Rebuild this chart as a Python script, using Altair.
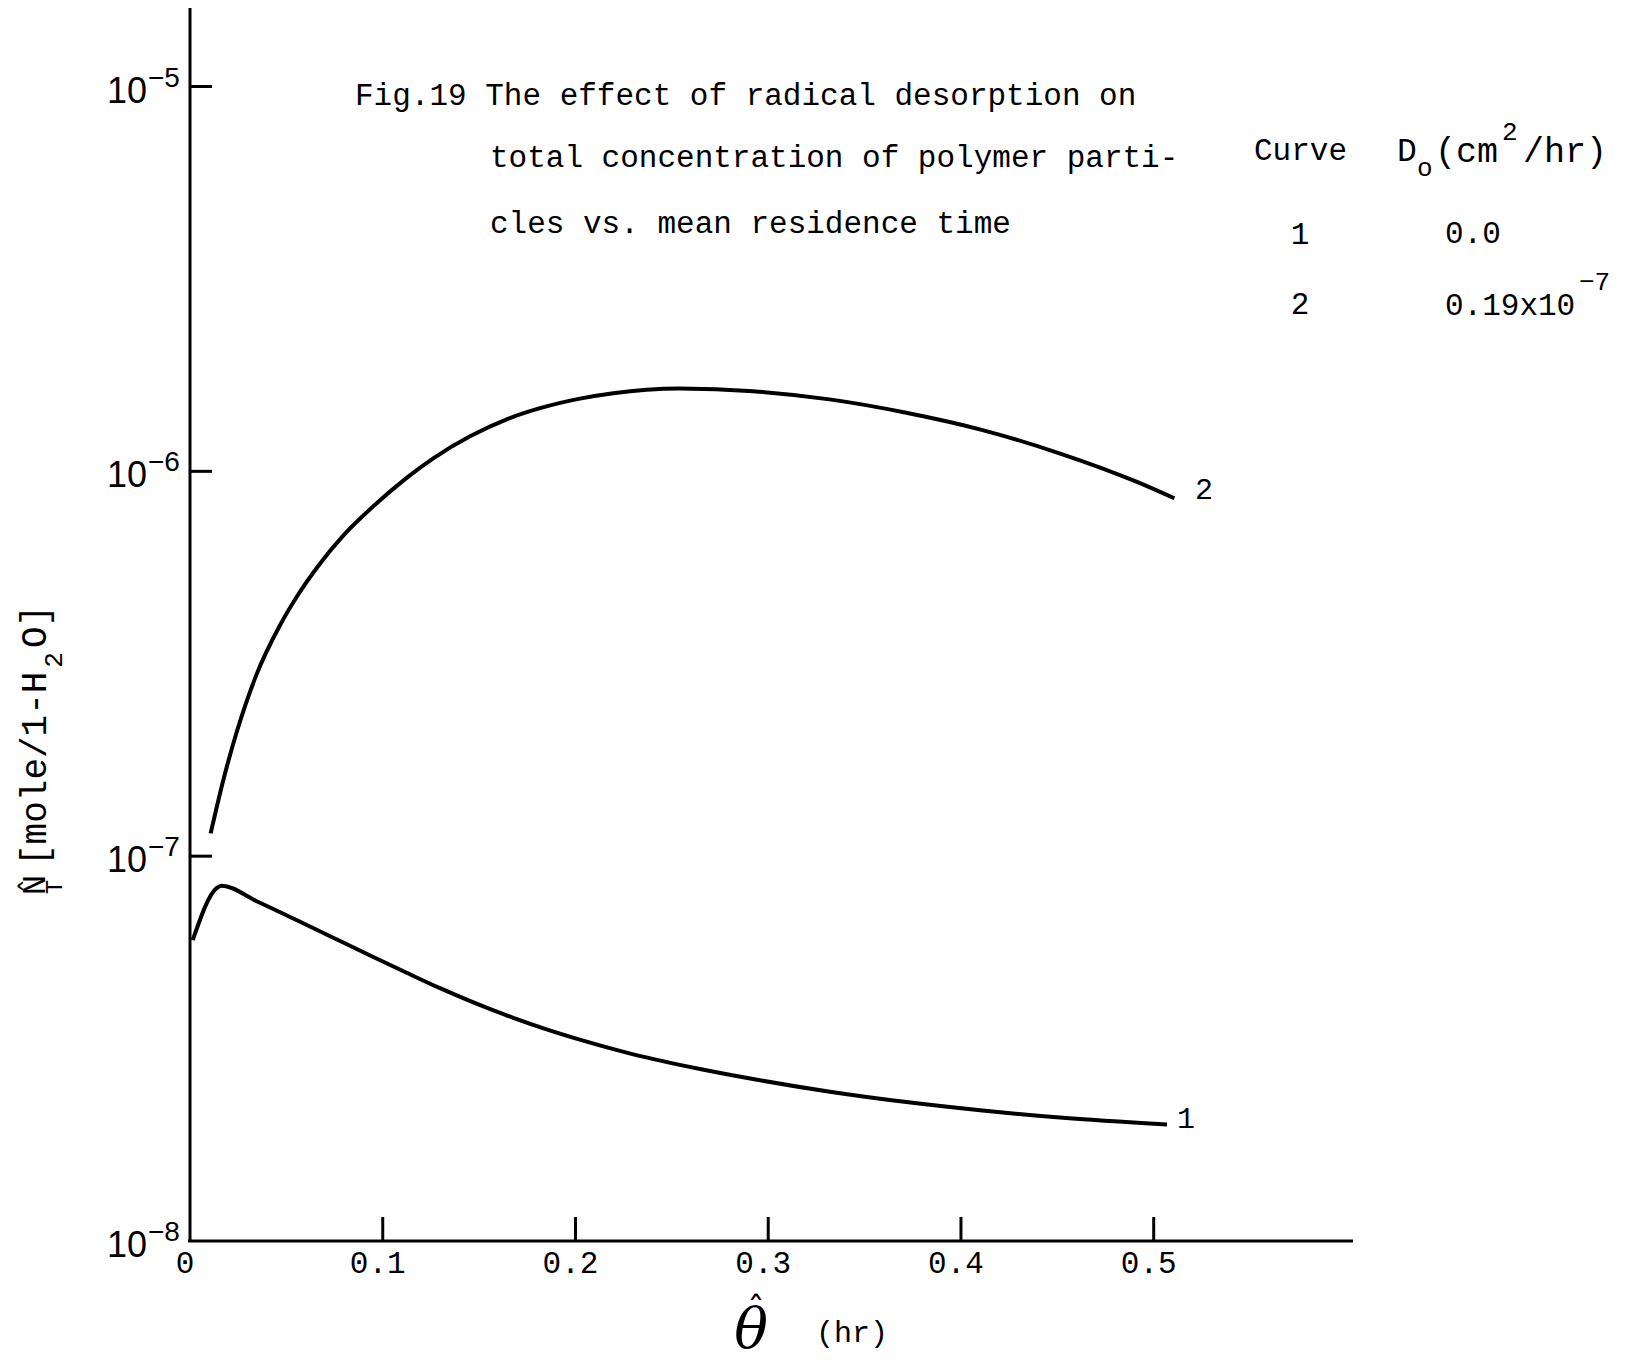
import altair as alt
import pandas as pd

# ---------------- data ----------------
# Curve 1 : D_o = 0.0
c1_theta = [0.0014, 0.0138, 0.0164, 0.0346, 0.0536, 0.0743, 0.0951, 0.1124, 0.1297,
            0.147, 0.1677, 0.185, 0.2058, 0.23, 0.2646, 0.2921, 0.332, 0.3717,
            0.4112, 0.4513, 0.5069]
c1_nt = [6.05e-8, 8.26e-8, 8.38e-8, 7.638e-8, 6.887e-8, 6.138e-8, 5.470e-8, 4.977e-8, 4.539e-8,
         4.169e-8, 3.802e-8, 3.548e-8, 3.296e-8, 3.055e-8, 2.799e-8, 2.636e-8, 2.443e-8, 2.296e-8,
         2.183e-8, 2.094e-8, 2.009e-8]

# Curve 2 : D_o = 0.19x10^-7
c2_theta = [0.0107, 0.0173, 0.0242, 0.0346, 0.0467, 0.0554, 0.0674, 0.0795, 0.0951,
            0.1124, 0.1262, 0.1453, 0.1643, 0.1816, 0.2023, 0.2196, 0.2369, 0.254,
            0.2921, 0.3318, 0.3716, 0.4112, 0.4511, 0.491, 0.5107]
c2_nt = [1.146e-7, 1.578e-7, 2.099e-7, 2.972e-7, 3.981e-7, 4.721e-7, 5.754e-7, 6.808e-7, 8.110e-7,
         9.616e-7, 1.081e-6, 1.233e-6, 1.365e-6, 1.459e-6, 1.545e-6, 1.596e-6, 1.629e-6, 1.641e-6,
         1.615e-6, 1.538e-6, 1.42e-6, 1.28e-6, 1.114e-6, 9.4e-7, 8.51e-7]

x_tick_values = [0.1, 0.2, 0.3, 0.4, 0.5]
x_label_values = [0.0, 0.1, 0.2, 0.3, 0.4, 0.5]
x_label_texts = ["0", "0.1", "0.2", "0.3", "0.4", "0.5"]
y_tick_values = [1e-5, 1e-6, 1e-7]
y_label_values = [1e-5, 1e-6, 1e-7, 1e-8]
y_label_exps = ["\u22125", "\u22126", "\u22127", "\u22128"]

title_lines = ["Fig.19 The effect of radical desorption on",
               "total concentration of polymer parti-",
               "cles vs. mean residence time"]

# ---------------- layout ----------------
W, H = 1163, 1233
MONO = "Liberation Mono"
SANS = "Liberation Sans"

xscale = alt.Scale(domain=[0, 0.6034], nice=False, zero=False)
yscale = alt.Scale(type="log", domain=[1e-8, 10 ** -4.796], nice=False)

curves = pd.DataFrame({
    "theta": c1_theta + c2_theta,
    "nt": c1_nt + c2_nt,
    "curve": ["1"] * len(c1_theta) + ["2"] * len(c2_theta),
})

lines = alt.Chart(curves).mark_line(color="black", strokeWidth=4, interpolate="monotone").encode(
    x=alt.X("theta:Q", scale=xscale, axis=None),
    y=alt.Y("nt:Q", scale=yscale, axis=None),
    detail="curve:N",
)

# axis lines
yaxis_line = alt.Chart(pd.DataFrame({"a": [0]})).mark_rule(color="black", strokeWidth=3).encode(
    x=alt.value(0), y=alt.value(0), y2=alt.value(H + 1))
xaxis_line = alt.Chart(pd.DataFrame({"a": [0]})).mark_rule(color="black", strokeWidth=3).encode(
    y=alt.value(H), x=alt.value(-2), x2=alt.value(W))

xticks = alt.Chart(pd.DataFrame({"v": x_tick_values})).mark_rule(color="black", strokeWidth=3).encode(
    x=alt.X("v:Q", scale=xscale, axis=None),
    y=alt.value(H), y2=alt.value(H - 24),
)
yticks = alt.Chart(pd.DataFrame({"v": y_tick_values})).mark_rule(color="black", strokeWidth=3).encode(
    y=alt.Y("v:Q", scale=yscale, axis=None),
    x=alt.value(0), x2=alt.value(22),
)

xlabels = alt.Chart(pd.DataFrame({"v": x_label_values, "t": x_label_texts})).mark_text(
    font=MONO, fontSize=31, align="center", baseline="middle", dx=-5, color="black"
).encode(x=alt.X("v:Q", scale=xscale, axis=None), y=alt.value(1256), text="t:N")

ylab_df = pd.DataFrame({"v": y_label_values, "e": y_label_exps, "b": ["10"] * 4})
ylabels10 = alt.Chart(ylab_df).mark_text(
    font=SANS, fontSize=36, align="right", baseline="middle", dy=5, color="black"
).encode(y=alt.Y("v:Q", scale=yscale, axis=None), x=alt.value(-43), text="b:N")
ylabelsExp = alt.Chart(ylab_df).mark_text(
    font=SANS, fontSize=28, align="left", baseline="middle", dy=-8, color="black"
).encode(y=alt.Y("v:Q", scale=yscale, axis=None), x=alt.value(-42), text="e:N")


def label(text, x, y, size=31, font=MONO, align="left", angle=0, style="normal", baseline="middle"):
    return alt.Chart(pd.DataFrame({"t": [text]})).mark_text(
        font=font, fontSize=size, align=align, baseline=baseline, angle=angle,
        fontStyle=style, color="black"
    ).encode(x=alt.value(x), y=alt.value(y), text="t:N")


texts = [
    label(title_lines[0], 165, 88),
    label(title_lines[1], 300, 150),
    label(title_lines[2], 300, 216),
    # legend table
    label("Curve", 1064, 143),
    label("D", 1207, 143, size=33),
    label("o", 1227, 160, size=26),
    label("(cm", 1245, 143, size=35),
    label("2", 1312, 124, size=26),
    label("/hr)", 1333, 143, size=35),
    label("1", 1110, 227, align="center"),
    label("0.0", 1255, 226),
    label("2", 1110, 297, align="center"),
    label("0.19x10", 1255, 298),
    label("\u22127", 1389, 274, size=26),
    # curve tags
    label("2", 1014, 482, size=30, align="center"),
    label("1", 996, 1111, size=30, align="center"),
    # x-axis title
    label("\u03b8", 561, 1323, size=56, font="DejaVu Serif", align="center", style="italic"),
    label("\u02c6", 566, 1303, size=36, font="DejaVu Sans", align="center"),
    label("(hr)", 626, 1325, size=30),
    # y-axis title (rotated)
    label("N", -155, 877, size=34, angle=270, align="center"),
    label("\u02c6", -157, 878, size=30, font="DejaVu Sans", angle=270, align="center"),
    label("T", -135, 879, size=24, angle=270, align="center"),
    label("[mole/1-H", -155, 858, size=36, angle=270),
    label("2", -136, 652, size=26, angle=270, align="center"),
    label("O]", -155, 640, size=36, angle=270),
]

chart = alt.layer(lines, yaxis_line, xaxis_line, xticks, yticks, xlabels, ylabels10, ylabelsExp,
                  *texts).properties(
    width=W, height=H,
    autosize=alt.AutoSizeParams(type="none"),
    padding={"left": 190, "top": 8, "right": 282, "bottom": 119},
    background="white",
).configure_view(stroke=None)

chart.save("out.html", embed_options={"renderer": "svg", "actions": False})
